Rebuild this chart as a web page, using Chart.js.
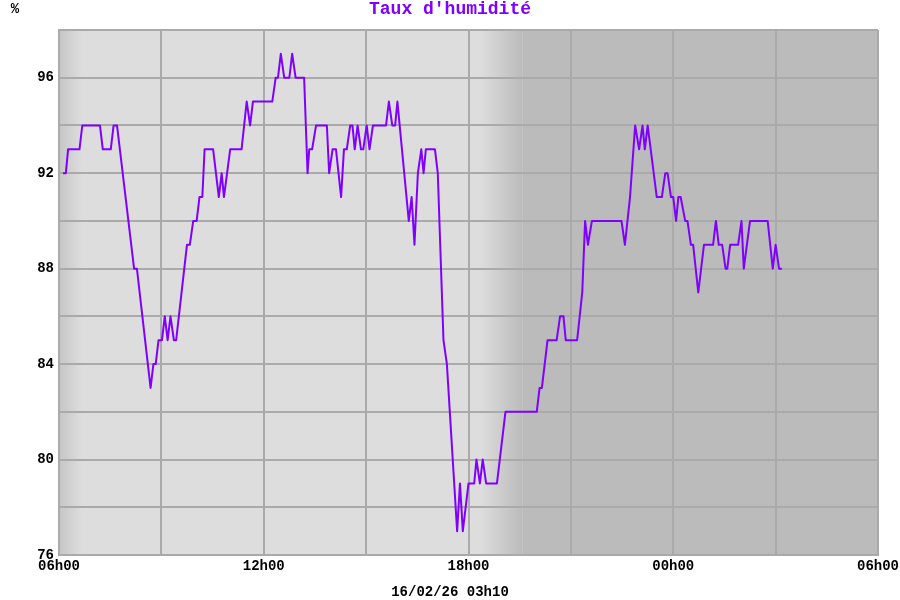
<!DOCTYPE html>
<html>
<head>
<meta charset="utf-8">
<script src="https://cdn.jsdelivr.net/npm/chart.js@4.4.1/dist/chart.umd.min.js"></script>
<style>
  html, body { margin: 0; padding: 0; background: #fff; }
  #wrap { width: 900px; height: 600px; }
</style>
</head>
<body>
<div id="wrap"><canvas id="myChart"></canvas></div>
<script>
// minutes after 06h00 (16/02) and humidity (%)
const minutes = [
  7, 12, 16, 36, 41, 72, 77, 91, 96, 102,
  132, 137, 161, 166, 170, 175, 181, 186, 191, 196,
  202, 206, 225, 230, 236, 242, 247, 252, 256, 271,
  281, 286, 290, 301, 321, 330, 336, 341, 375, 381,
  385, 390, 396, 405, 410, 416, 431, 437, 440, 445,
  452, 471, 475, 481, 487, 496, 501, 506, 512, 516,
  520, 525, 531, 535, 541, 546, 552, 575, 580, 586,
  591, 595, 615, 620, 625, 631, 637, 641, 645, 661,
  666, 676, 682, 700, 705, 710, 720, 730, 734, 740,
  745, 751, 770, 785, 840, 845, 849, 859, 875, 881,
  887, 891, 911, 920, 925, 930, 937, 989, 995, 1004,
  1013, 1020, 1026, 1030, 1035, 1051, 1060, 1066, 1070, 1076,
  1080, 1085, 1089, 1093, 1101, 1105, 1111, 1115, 1124, 1134,
  1150, 1155, 1160, 1166, 1172, 1175, 1180, 1194, 1200, 1204,
  1215, 1246, 1255, 1260, 1266, 1271
];
const humidity = [
  92, 92, 93, 93, 94, 94, 93, 93, 94, 94,
  88, 88, 83, 84, 84, 85, 85, 86, 85, 86,
  85, 85, 89, 89, 90, 90, 91, 91, 93, 93,
  91, 92, 91, 93, 93, 95, 94, 95, 95, 96,
  96, 97, 96, 96, 97, 96, 96, 92, 93, 93,
  94, 94, 92, 93, 93, 91, 93, 93, 94, 94,
  93, 94, 93, 93, 94, 93, 94, 94, 95, 94,
  94, 95, 90, 91, 89, 92, 93, 92, 93, 93,
  92, 85, 84, 77, 79, 77, 79, 79, 80, 79,
  80, 79, 79, 82, 82, 83, 83, 85, 85, 86,
  86, 85, 85, 87, 90, 89, 90, 90, 89, 91,
  94, 93, 94, 93, 94, 91, 91, 92, 92, 91,
  91, 90, 91, 91, 90, 90, 89, 89, 87, 89,
  89, 90, 89, 89, 88, 88, 89, 89, 90, 88,
  90, 90, 88, 89, 88, 88
];
const hourLabels = ['06h00', '12h00', '18h00', '00h00', '06h00'];

const titre = "Taux d'humidité";
const unite = '%';
const dateTxt = '16/02/26 03h10';

const mono = "'Liberation Mono', 'Courier New', monospace";

// fond jour / nuit + textes autour du graphe
const fondPlugin = {
  id: 'fond',
  beforeDraw(chart) {
    const { ctx, chartArea: a, scales } = chart;
    const x = scales.x;
    ctx.save();
    ctx.fillStyle = '#dddddd';
    ctx.fillRect(a.left, a.top, a.right - a.left, a.bottom - a.top);
    // aube à gauche
    const x0 = x.getPixelForValue(0), x1 = x.getPixelForValue(40);
    let g = ctx.createLinearGradient(x0, 0, x1, 0);
    g.addColorStop(0, '#c6c6c6');
    g.addColorStop(1, '#dddddd');
    ctx.fillStyle = g;
    ctx.fillRect(x0, a.top, x1 - x0, a.bottom - a.top);
    // crépuscule puis nuit
    const n0 = x.getPixelForValue(742), n1 = x.getPixelForValue(815);
    g = ctx.createLinearGradient(n0, 0, n1, 0);
    g.addColorStop(0, '#dddddd');
    g.addColorStop(1, '#bbbbbb');
    ctx.fillStyle = g;
    ctx.fillRect(n0, a.top, n1 - n0, a.bottom - a.top);
    ctx.fillStyle = '#bbbbbb';
    ctx.fillRect(n1, a.top, a.right - n1, a.bottom - a.top);
    ctx.restore();
  },
  afterDraw(chart) {
    const ctx = chart.ctx;
    ctx.save();
    ctx.textAlign = 'center';
    ctx.textBaseline = 'middle';
    ctx.fillStyle = '#8000ff';
    ctx.font = 'bold 18px ' + mono;
    ctx.fillText(titre, 450, 9);
    ctx.fillStyle = '#000';
    ctx.font = 'bold 14px ' + mono;
    ctx.fillText(unite, 15, 9);
    ctx.fillText(dateTxt, 450, 592);
    ctx.restore();
  }
};

new Chart(document.getElementById('myChart'), {
  type: 'line',
  data: {
    datasets: [{
      data: minutes.map((m, i) => ({ x: m, y: humidity[i] })),
      borderColor: '#7f00ff',
      borderWidth: 2,
      borderJoinStyle: 'round',
      pointRadius: 0,
      tension: 0,
      fill: false
    }]
  },
  options: {
    responsive: true,
    maintainAspectRatio: false,
    animation: false,
    layout: { padding: { top: 30, right: 22, left: 0, bottom: 0 } },
    plugins: {
      legend: { display: false },
      tooltip: { enabled: false },
      title: { display: false }
    },
    scales: {
      x: {
        type: 'linear',
        min: 0,
        max: 1440,
        afterFit: (s) => {
          s.height = 45;
          s.paddingLeft = 0;
          s.paddingRight = 0;
        },
        afterBuildTicks: (s) => {
          s.ticks = [];
          for (let v = 0; v <= 1440; v += 180) s.ticks.push({ value: v });
        },
        grid: { color: '#aaaaaa', lineWidth: 2, drawTicks: false },
        border: { color: '#aaaaaa', width: 2 },
        ticks: {
          padding: 3,
          maxRotation: 0,
          autoSkip: false,
          color: '#000',
          font: { family: mono, size: 14, weight: 'bold' },
          callback: (v) => (v % 360 === 0 ? hourLabels[v / 360] : '')
        }
      },
      y: {
        min: 76,
        max: 98,
        afterFit: (s) => { s.width = 59; },
        grid: { color: '#aaaaaa', lineWidth: 2, drawTicks: false },
        border: { color: '#aaaaaa', width: 2 },
        ticks: {
          stepSize: 2,
          padding: 5,
          color: '#000',
          font: { family: mono, size: 14, weight: 'bold' },
          callback: (v) => (v % 4 === 0 && v < 98 ? String(v) : '')
        }
      }
    }
  },
  plugins: [fondPlugin]
});
</script>
</body>
</html>
